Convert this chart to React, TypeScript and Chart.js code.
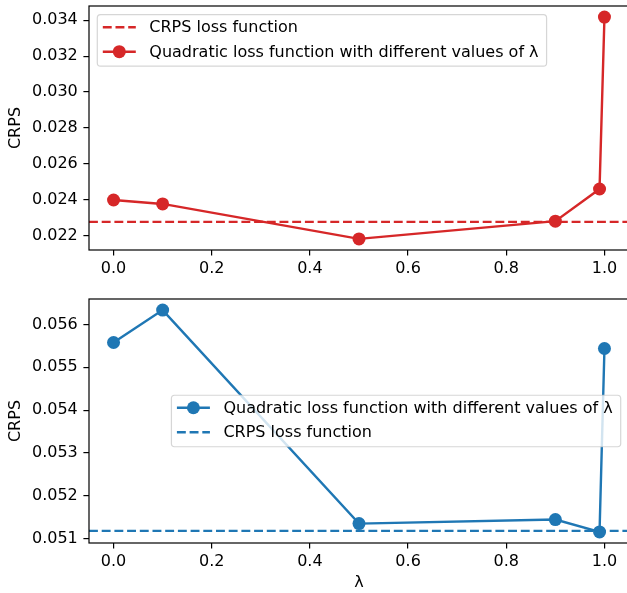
import React, { useEffect, useRef } from "react";
import { Chart, registerables } from "chart.js";

Chart.register(...registerables);

// ---- data ----
const LAMBDAS = [0, 0.1, 0.5, 0.9, 0.99, 1.0];
const TOP_QUADRATIC = [0.024, 0.02378, 0.021835, 0.02282, 0.02461, 0.03417];
const TOP_CRPS = 0.02278;
const BOTTOM_QUADRATIC = [0.055578, 0.056335, 0.051351, 0.051445, 0.051157, 0.055438];
const BOTTOM_CRPS = 0.05118;
const X_TICKS = [0, 0.2, 0.4, 0.6, 0.8, 1.0];
const TOP_Y_TICKS = [0.022, 0.024, 0.026, 0.028, 0.03, 0.032, 0.034];
const BOTTOM_Y_TICKS = [0.051, 0.052, 0.053, 0.054, 0.055, 0.056];
const LABEL_QUAD = "Quadratic loss function with different values of λ";
const LABEL_CRPS = "CRPS loss function";
const Y_TITLE = "CRPS";
const X_TITLE = "λ";

const FONT = '"DejaVu Sans", sans-serif';
const RED = "#d62728";
const BLUE = "#1f77b4";
const LW = 2.4;
const DASH = [8.9, 3.8];

function margins(vals: number[]): [number, number] {
  const lo = Math.min(...vals);
  const hi = Math.max(...vals);
  const m = (hi - lo) * 0.05;
  return [lo - m, hi + m];
}

type LegendItem = { label: string; color: string; dashed: boolean; marker: boolean };

function roundRect(ctx: CanvasRenderingContext2D, x: number, y: number, w: number, h: number, r: number) {
  ctx.beginPath();
  ctx.moveTo(x + r, y);
  ctx.lineTo(x + w - r, y);
  ctx.arcTo(x + w, y, x + w, y + r, r);
  ctx.lineTo(x + w, y + h - r);
  ctx.arcTo(x + w, y + h, x + w - r, y + h, r);
  ctx.lineTo(x + r, y + h);
  ctx.arcTo(x, y + h, x, y + h - r, r);
  ctx.lineTo(x, y + r);
  ctx.arcTo(x, y, x + r, y, r);
  ctx.closePath();
}

function decorPlugin(items: LegendItem[], loc: "upper left" | "center right") {
  return {
    id: "mplDecor",
    afterDatasetsDraw(chart: any) {
      const ctx: CanvasRenderingContext2D = chart.ctx;
      const a = chart.chartArea;
      ctx.save();
      // spines
      ctx.strokeStyle = "#000";
      ctx.lineWidth = 1.2;
      ctx.setLineDash([]);
      ctx.strokeRect(a.left, a.top, a.right - a.left, a.bottom - a.top);
      // legend
      ctx.font = `16px ${FONT}`;
      const tw = Math.max(...items.map((i) => ctx.measureText(i.label).width));
      const w = 52 + tw + 8;
      const h = 51.5;
      let x: number, y: number;
      if (loc === "upper left") {
        x = a.left + 8.3;
        y = a.top + 8.7;
      } else {
        x = a.right - 8.3 - w;
        y = (a.top + a.bottom) / 2 - h / 2;
      }
      roundRect(ctx, x, y, w, h, 3.2);
      ctx.fillStyle = "rgba(255,255,255,0.8)";
      ctx.fill();
      ctx.strokeStyle = "rgba(204,204,204,0.8)";
      ctx.lineWidth = 1.2;
      ctx.stroke();
      items.forEach((it, i) => {
        const cy = y + 12.5 + i * 24.5;
        ctx.strokeStyle = it.color;
        ctx.lineWidth = LW;
        ctx.setLineDash(it.dashed ? DASH : []);
        ctx.beginPath();
        ctx.moveTo(x + 5.5, cy);
        ctx.lineTo(x + 38.5, cy);
        ctx.stroke();
        ctx.setLineDash([]);
        if (it.marker) {
          ctx.fillStyle = it.color;
          ctx.beginPath();
          ctx.arc(x + 22, cy, 6.5, 0, Math.PI * 2);
          ctx.fill();
        }
        ctx.fillStyle = "#000";
        ctx.textBaseline = "middle";
        ctx.textAlign = "left";
        ctx.fillText(it.label, x + 52, cy + 1);
      });
      ctx.restore();
    },
  };
}

function makeConfig(opts: {
  values: number[];
  crps: number;
  color: string;
  yTicks: number[];
  crpsFirst: boolean;
  padTop: number;
  xHeight: number;
  showXTitle: boolean;
  legendLoc: "upper left" | "center right";
}): any {
  const [xMin, xMax] = margins(LAMBDAS);
  const [yMin, yMax] = margins(opts.values);
  const quad = {
    label: LABEL_QUAD,
    data: LAMBDAS.map((x, i) => ({ x, y: opts.values[i] })),
    borderColor: opts.color,
    backgroundColor: opts.color,
    borderWidth: LW,
    pointRadius: 6.5,
    pointBorderWidth: 0,
    pointBackgroundColor: opts.color,
    tension: 0,
    order: opts.crpsFirst ? 0 : 1,
  };
  const crps = {
    label: LABEL_CRPS,
    data: [
      { x: xMin, y: opts.crps },
      { x: xMax, y: opts.crps },
    ],
    borderColor: opts.color,
    borderWidth: LW,
    borderDash: DASH,
    pointRadius: 0,
    tension: 0,
    order: opts.crpsFirst ? 1 : 0,
  };
  const quadItem: LegendItem = { label: LABEL_QUAD, color: opts.color, dashed: false, marker: true };
  const crpsItem: LegendItem = { label: LABEL_CRPS, color: opts.color, dashed: true, marker: false };
  const items = opts.crpsFirst ? [crpsItem, quadItem] : [quadItem, crpsItem];
  const tickFont = { family: FONT, size: 16 };
  return {
    type: "line",
    data: { datasets: opts.crpsFirst ? [crps, quad] : [quad, crps] },
    options: {
      responsive: false,
      animation: false,
      layout: { padding: { top: opts.padTop, left: 0, right: 11, bottom: 0 } },
      plugins: { legend: { display: false }, tooltip: { enabled: false } },
      scales: {
        x: {
          type: "linear",
          min: xMin,
          max: xMax,
          afterBuildTicks: (s: any) => {
            s.ticks = X_TICKS.map((v) => ({ value: v }));
          },
          afterFit: (s: any) => {
            s.height = opts.xHeight;
          },
          ticks: {
            callback: (v: any) => Number(v).toFixed(1),
            font: tickFont,
            color: "#000",
            padding: 4,
            maxRotation: 0,
            autoSkip: false,
          },
          grid: { drawOnChartArea: false, drawTicks: true, tickLength: 5.6, color: "#000", lineWidth: 1.2 },
          border: { display: false },
          title: {
            display: opts.showXTitle,
            text: X_TITLE,
            font: tickFont,
            color: "#000",
            padding: { top: 0, bottom: 1 },
          },
        },
        y: {
          type: "linear",
          min: yMin,
          max: yMax,
          afterBuildTicks: (s: any) => {
            s.ticks = opts.yTicks.map((v) => ({ value: v }));
          },
          afterFit: (s: any) => {
            s.width = 89;
          },
          ticks: {
            callback: (v: any) => Number(v).toFixed(3),
            font: tickFont,
            color: "#000",
            padding: 5.6,
            autoSkip: false,
          },
          grid: { drawOnChartArea: false, drawTicks: true, tickLength: 5.6, color: "#000", lineWidth: 1.2 },
          border: { display: false },
          title: {
            display: true,
            text: Y_TITLE,
            font: tickFont,
            color: "#000",
            padding: { top: 6.4, bottom: 0 },
          },
        },
      },
    },
    plugins: [decorPlugin(items, opts.legendLoc)],
  };
}

export default function App() {
  const topRef = useRef<HTMLCanvasElement>(null);
  const botRef = useRef<HTMLCanvasElement>(null);

  useEffect(() => {
    const c1 = new Chart(
      topRef.current as HTMLCanvasElement,
      makeConfig({
        values: TOP_QUADRATIC,
        crps: TOP_CRPS,
        color: RED,
        yTicks: TOP_Y_TICKS,
        crpsFirst: true,
        padTop: 26,
        xHeight: 30,
        showXTitle: false,
        legendLoc: "upper left",
      })
    );
    const c2 = new Chart(
      botRef.current as HTMLCanvasElement,
      makeConfig({
        values: BOTTOM_QUADRATIC,
        crps: BOTTOM_CRPS,
        color: BLUE,
        yTicks: BOTTOM_Y_TICKS,
        crpsFirst: false,
        padTop: 19,
        xHeight: 50,
        showXTitle: true,
        legendLoc: "center right",
      })
    );
    return () => {
      c1.destroy();
      c2.destroy();
    };
  }, []);

  return (
    <div
      style={{
        position: "absolute",
        left: 0,
        top: 0,
        width: 627,
        height: 593,
        overflow: "hidden",
        background: "#fff",
      }}
    >
      <canvas
        ref={topRef}
        width={640}
        height={300}
        style={{ position: "absolute", left: 0, top: -20, width: 640, height: 300 }}
      />
      <canvas
        ref={botRef}
        width={640}
        height={313}
        style={{ position: "absolute", left: 0, top: 280, width: 640, height: 313 }}
      />
    </div>
  );
}
